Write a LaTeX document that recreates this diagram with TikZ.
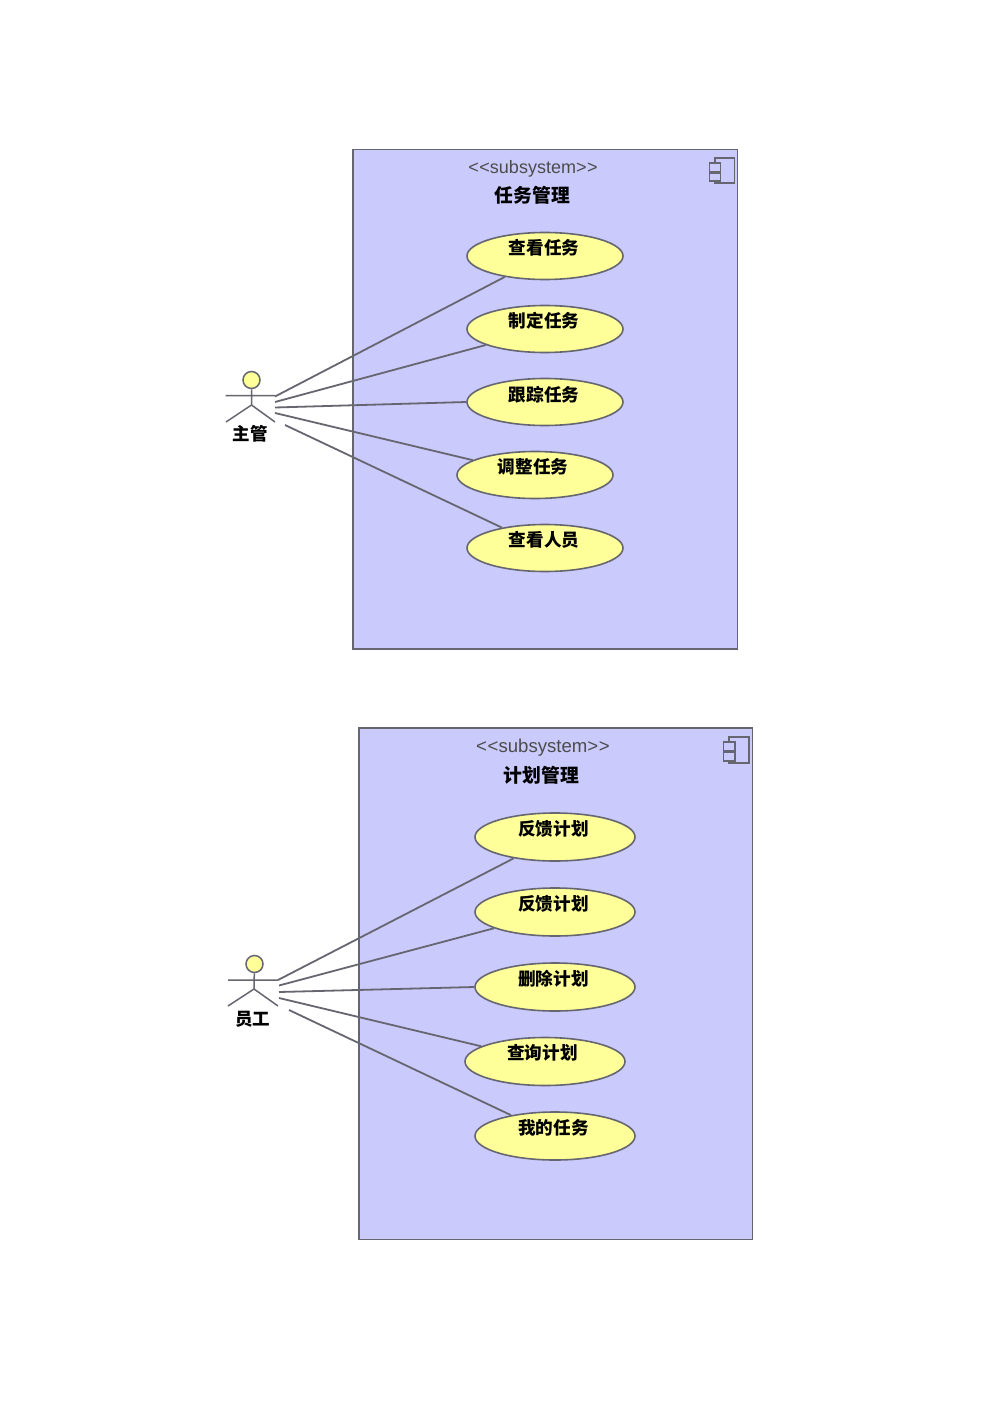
\documentclass[tikz,border=0pt]{standalone}
\usepackage{fontspec}
\setmainfont{Liberation Sans}
\newfontfamily\cjk{Noto Sans CJK SC}
\usetikzlibrary{shapes.geometric}
\definecolor{boxfill}{HTML}{CACAFD}
\definecolor{ucfill}{HTML}{FFFF99}
\definecolor{edge}{HTML}{666670}
\newcommand{\stereotxt}{{<}\kern0.6pt{<}subsystem{>}\kern0.6pt{>}}
\tikzset{
  x=1pt,y=-1pt,
  subsys/.style={draw=edge,fill=boxfill,line width=1.7pt,inner sep=0,anchor=north west},
  usecaseA/.style={ellipse,draw=edge,fill=ucfill,line width=1.6pt,inner sep=0,minimum width=156pt,minimum height=47pt},
  usecaseB/.style={ellipse,draw=edge,fill=ucfill,line width=1.6pt,inner sep=0,minimum width=160pt,minimum height=48pt},
  uclabel/.style={inner sep=0,font=\cjk\bfseries\fontsize{17.6}{18}\selectfont},
  stereo/.style={inner sep=0,text=black!70,font=\fontsize{18}{18}\selectfont},
  stereob/.style={inner sep=0,text=black!70,font=\fontsize{18.6}{18}\selectfont},
  title/.style={inner sep=0,font=\cjk\bfseries\fontsize{18.8}{19}\selectfont},
  actorname/.style={inner sep=0,font=\cjk\bfseries\fontsize{17.5}{18}\selectfont},
  assoc/.style={draw=edge,line width=1.8pt},
  stick/.style={draw=edge,line width=1.5pt},
  head/.style={circle,draw=edge,fill=ucfill,line width=1.5pt,inner sep=0,minimum size=17pt},
  icon/.style={draw=edge,fill=boxfill,line width=1.5pt}
}
\begin{document}
\begin{tikzpicture}
\useasboundingbox[fill=white] (0,0) rectangle (1000,1415);

% ---------- first subsystem
\node[subsys,minimum width=384.5pt,minimum height=499.5pt] (boxA) at (352.2,148.7) {};
\node[stereo] (stA) at (533,169) {\stereotxt};
\node[title] (tiA) at (532.5,195.5) {任务管理};
\draw[icon] (715,158) rectangle (734.5,183);
\draw[icon] (709.5,163) rectangle (720.5,171.5);
\draw[icon] (709.5,173) rectangle (720.5,181);

\node[usecaseA] (a1) at (545,256) {};
\node[usecaseA] (a2) at (545,329) {};
\node[usecaseA] (a3) at (545,402) {};
\node[usecaseA] (a4) at (535,475) {};
\node[usecaseA] (a5) at (545,548) {};
\node[uclabel] (la1) at (544,247.5) {查看任务};
\node[uclabel] (la2) at (544,321) {制定任务};
\node[uclabel] (la3) at (544,394.5) {跟踪任务};
\node[uclabel] (la4) at (533,466.5) {调整任务};
\node[uclabel] (la5) at (544,539.5) {查看人员};

\node[head] (hA) at (251.5,380) {};
\coordinate (hipA) at (251.5,405);
\coordinate (armLA) at (225.5,395.5);
\coordinate (armRA) at (275,395.5);
\coordinate (legLA) at (226,422);
\coordinate (legRA) at (275,422);
\draw[stick] (hA) -- (hipA) (armLA) -- (armRA) (legLA) -- (hipA) -- (legRA);
\node[actorname] (nA) at (250,433.5) {主管};

\coordinate (sa1) at (275,396.5);
\coordinate (sa2) at (275,402);
\coordinate (sa3) at (275,407.5);
\coordinate (sa4) at (275,413);
\coordinate (sa5) at (285,425);
\draw[assoc] (sa1) -- (a1);
\draw[assoc] (sa2) -- (a2);
\draw[assoc] (sa3) -- (a3.west);
\draw[assoc] (sa4) -- (a4);
\draw[assoc] (sa5) -- (a5);

% ---------- second subsystem
\node[subsys,minimum width=393.5pt,minimum height=511.5pt] (boxB) at (358.1,727.1) {};
\node[stereob] (stB) at (543,748) {\stereotxt};
\node[title] (tiB) at (541.5,775) {计划管理};
\draw[icon] (729,737) rectangle (749,763);
\draw[icon] (723.5,742) rectangle (735,751);
\draw[icon] (723.5,752.5) rectangle (735,761);

\node[usecaseB] (b1) at (555,837) {};
\node[usecaseB] (b2) at (555,912) {};
\node[usecaseB] (b3) at (555,987) {};
\node[usecaseB] (b4) at (545,1061.5) {};
\node[usecaseB] (b5) at (555,1136) {};
\node[uclabel] (lb1) at (553.5,829) {反馈计划};
\node[uclabel] (lb2) at (553.5,904) {反馈计划};
\node[uclabel] (lb3) at (553.5,979) {删除计划};
\node[uclabel] (lb4) at (542.5,1053) {查询计划};
\node[uclabel] (lb5) at (553.5,1127.5) {我的任务};

\node[head] (hB) at (254.5,964) {};
\coordinate (hipB) at (254,989);
\coordinate (armLB) at (228,980);
\coordinate (armRB) at (278,980);
\coordinate (legLB) at (228,1006);
\coordinate (legRB) at (278,1006);
\draw[stick] (hB) -- (hipB) (armLB) -- (armRB) (legLB) -- (hipB) -- (legRB);
\node[actorname] (nB) at (252.5,1019) {员工};

\coordinate (sb1) at (278,980);
\coordinate (sb2) at (279,985.5);
\coordinate (sb3) at (279,992);
\coordinate (sb4) at (279,998);
\coordinate (sb5) at (289,1010);
\draw[assoc] (sb1) -- (b1);
\draw[assoc] (sb2) -- (b2);
\draw[assoc] (sb3) -- (b3.west);
\draw[assoc] (sb4) -- (b4);
\draw[assoc] (sb5) -- (b5);
\end{tikzpicture}
\end{document}
